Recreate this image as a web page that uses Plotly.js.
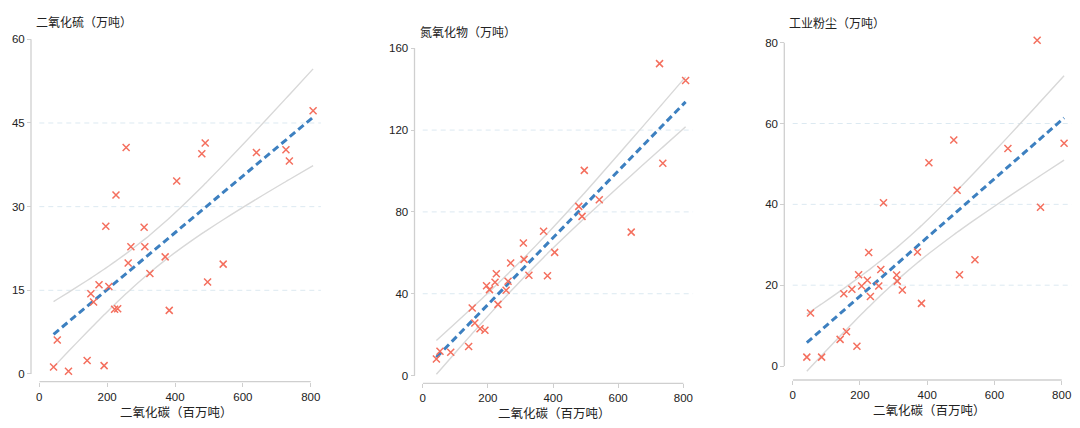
<!DOCTYPE html>
<html>
<head>
<meta charset="utf-8">
<script src="https://cdn.plot.ly/plotly-3.0.1.min.js"></script>
<style>
  html, body { margin: 0; padding: 0; background: #fff; }
  #chart { width: 1080px; height: 428px; }
</style>
</head>
<body>
<div id="chart"></div>
<script>
// ---- data ----
const co2  = [42, 53, 86, 141, 152, 160, 176, 191, 196, 205, 222, 226, 231, 256, 262, 270, 309, 311, 326, 371, 383, 405, 479, 489, 496, 542, 640, 727, 737, 807];
const so2  = [1.25, 6.1, 0.5, 2.4, 14.4, 12.9, 16.0, 1.5, 26.5, 15.7, 11.6, 32.1, 11.7, 40.6, 19.9, 22.8, 26.3, 22.8, 18.0, 21.0, 11.4, 34.6, 39.5, 41.4, 16.5, 19.7, 39.7, 40.2, 38.2, 47.2];
const nox  = [8.1, 11.9, 11.4, 14.2, 33.0, 25.7, 22.9, 22.1, 43.9, 42.0, 45.6, 49.8, 34.8, 41.7, 46.1, 55.0, 64.8, 56.8, 49.0, 70.5, 48.8, 60.2, 82.7, 77.8, 100.3, 85.9, 70.1, 152.5, 103.8, 144.2];
const dust = [2.2, 13.1, 2.2, 6.6, 17.9, 8.5, 19.0, 4.9, 22.6, 19.8, 21.2, 28.1, 17.2, 19.8, 23.9, 40.4, 22.5, 21.0, 18.8, 28.2, 15.5, 50.3, 55.9, 43.5, 22.6, 26.3, 53.8, 80.6, 39.3, 55.1];

const panelTitles = ['二氧化硫（万吨）', '氮氧化物（万吨）', '工业粉尘（万吨）'];
const xTitle = '二氧化碳（百万吨）';
const xTicks = [0, 200, 400, 600, 800];
const yTicks1 = [0, 15, 30, 45, 60];
const yTicks2 = [0, 40, 80, 120, 160];
const yTicks3 = [0, 20, 40, 60, 80];

// ---- layout geometry (pixels in a 1080x428 page) ----
const W = 1080, H = 428;
const FONT = 'Liberation Sans, Arial, "Noto Sans CJK SC", sans-serif';
const TXT = '#222';
const panels = [
  { y: so2,  ticks: yTicks1, title: panelTitles[0],
    xd: [39.3, 320.9], yr: [-3, 63],  yd: [390.7, 22.6], yAxisX: 31,    xAxisY: 381.7,
    titleXY: [34, 23], xTitleXY: [176.5, 413] },
  { y: nox,  ticks: yTicks2, title: panelTitles[1],
    xd: [422.7, 693.1], yr: [-8, 168], yd: [391.9, 31.9], yAxisX: 414.5, xAxisY: 383.3,
    titleXY: [418, 32], xTitleXY: [554.5, 414] },
  { y: dust, ticks: yTicks3, title: panelTitles[2],
    xd: [792.7, 1071.8], yr: [-4, 84], yd: [382.2, 26.5], yAxisX: 784.3, xAxisY: 380,
    titleXY: [787, 24], xTitleXY: [929, 410.7] }
];

// ---- least squares fit with 95% confidence band of the mean ----
function regression(x, y) {
  const n = x.length;
  const mx = x.reduce((a, b) => a + b, 0) / n;
  const my = y.reduce((a, b) => a + b, 0) / n;
  let sxx = 0, sxy = 0;
  for (let i = 0; i < n; i++) { sxx += (x[i] - mx) ** 2; sxy += (x[i] - mx) * (y[i] - my); }
  const b = sxy / sxx, a = my - b * mx;
  let sse = 0;
  for (let i = 0; i < n; i++) sse += (y[i] - (a + b * x[i])) ** 2;
  const s = Math.sqrt(sse / (n - 2));
  const t = 2.048; // t(0.975, df = 28)
  const xs = x.slice().sort((p, q) => p - q);
  const fitY = [], up = [], lo = [];
  xs.forEach(v => {
    const yh = a + b * v;
    const se = s * Math.sqrt(1 / n + (v - mx) ** 2 / sxx);
    fitY.push(yh); up.push(yh + t * se); lo.push(yh - t * se);
  });
  return { xs, fitY, up, lo };
}

const traces = [];
const layout = {
  width: W, height: H,
  margin: { l: 0, r: 0, t: 0, b: 0 },
  paper_bgcolor: '#fff', plot_bgcolor: 'rgba(0,0,0,0)',
  showlegend: false,
  font: { family: FONT, size: 11, color: TXT },
  shapes: [], annotations: []
};

panels.forEach((p, i) => {
  const k = i === 0 ? '' : String(i + 1);
  const xa = 'x' + k, ya = 'y' + k;
  const r = regression(co2, p.y);

  traces.push({ x: r.xs, y: r.up, xaxis: xa, yaxis: ya, mode: 'lines', type: 'scatter',
    line: { color: '#d8d8d8', width: 1.4, shape: 'spline' }, hoverinfo: 'skip' });
  traces.push({ x: r.xs, y: r.lo, xaxis: xa, yaxis: ya, mode: 'lines', type: 'scatter',
    line: { color: '#d8d8d8', width: 1.4, shape: 'spline' }, hoverinfo: 'skip' });
  traces.push({ x: r.xs, y: r.fitY, xaxis: xa, yaxis: ya, mode: 'lines', type: 'scatter',
    line: { color: '#3d80c0', width: 3, dash: '7px,4px' } });
  traces.push({ x: co2, y: p.y, xaxis: xa, yaxis: ya, mode: 'markers', type: 'scatter',
    cliponaxis: false,
    marker: { symbol: 'x-thin', size: 7, line: { color: '#f46f5e', width: 1.5 }, color: '#f46f5e' } });

  layout['xaxis' + k] = {
    domain: [p.xd[0] / W, p.xd[1] / W], range: [0, 830],
    anchor: 'free', position: 1 - p.xAxisY / H,
    showgrid: false, zeroline: false, showline: false,
    ticks: 'outside', ticklen: 4, tickwidth: 1, tickcolor: '#cfcfcf',
    tickmode: 'array', tickvals: xTicks, tickfont: { size: 11.5, color: TXT },
    fixedrange: true
  };
  layout['yaxis' + k] = {
    domain: [1 - p.yd[0] / H, 1 - p.yd[1] / H], range: p.yr,
    anchor: 'free', position: p.yAxisX / W, side: 'left',
    showgrid: false, zeroline: false, showline: false,
    ticks: 'outside', ticklen: 4, tickwidth: 1, tickcolor: '#cfcfcf',
    tickmode: 'array', tickvals: p.ticks, tickfont: { size: 11.5, color: TXT },
    fixedrange: true
  };

  // dashed horizontal gridlines at the inner ticks
  p.ticks.slice(1, -1).forEach(v => {
    layout.shapes.push({ type: 'line', xref: xa + ' domain', yref: ya,
      x0: 0, x1: 1, y0: v, y1: v, layer: 'below',
      line: { color: '#dce9f1', width: 1, dash: '5px,4px' } });
  });
  // offset axis lines
  layout.shapes.push({ type: 'line', xref: 'paper', yref: ya,
    x0: p.yAxisX / W, x1: p.yAxisX / W, y0: p.ticks[0], y1: p.ticks[p.ticks.length - 1],
    line: { color: '#cfcfcf', width: 1.3 } });
  layout.shapes.push({ type: 'line', xref: xa, yref: 'paper',
    x0: xTicks[0], x1: xTicks[xTicks.length - 1], y0: 1 - p.xAxisY / H, y1: 1 - p.xAxisY / H,
    line: { color: '#cfcfcf', width: 1.3 } });

  // titles
  layout.annotations.push({ xref: 'paper', yref: 'paper', x: p.titleXY[0] / W, y: 1 - p.titleXY[1] / H,
    xanchor: 'left', yanchor: 'middle', showarrow: false, text: p.title,
    font: { size: 12, color: TXT, family: FONT } });
  layout.annotations.push({ xref: 'paper', yref: 'paper', x: p.xTitleXY[0] / W, y: 1 - p.xTitleXY[1] / H,
    xanchor: 'center', yanchor: 'middle', showarrow: false, text: xTitle,
    font: { size: 12.5, color: TXT, family: FONT } });
});

Plotly.newPlot('chart', traces, layout, { displayModeBar: false, staticPlot: true });
</script>
</body>
</html>
